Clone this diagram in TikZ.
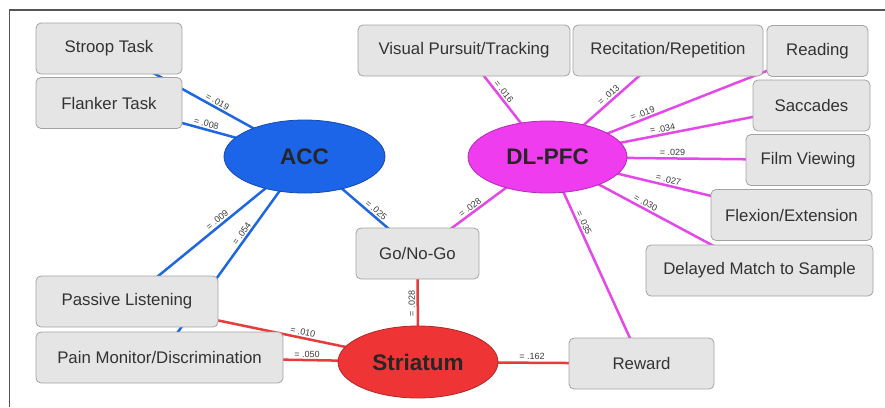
\documentclass[tikz,border=0pt]{standalone}
\usepackage{fontspec}
\setmainfont{Liberation Sans}
\usetikzlibrary{positioning, shapes.geometric, backgrounds}
\definecolor{accblue}{HTML}{1C64E8}
\definecolor{pfcpink}{HTML}{EE3CEE}
\definecolor{strred}{HTML}{EE3434}
\definecolor{lnblue}{HTML}{1F66E2}
\definecolor{lnpink}{HTML}{E548E8}
\definecolor{lnred}{HTML}{E83A3A}
\definecolor{boxfill}{HTML}{E5E5E5}
\definecolor{boxedge}{HTML}{A3A3A3}
\definecolor{boxtext}{HTML}{333333}
\definecolor{wgray}{HTML}{3A3A3A}
\definecolor{framegray}{HTML}{555555}

\begin{document}
\begin{tikzpicture}[
  x=1pt, y=-1pt,
  taskbox/.style={rectangle, draw=boxedge, fill=boxfill, rounded corners=5pt, line width=0.8pt, minimum height=51pt, text=boxtext, font=\fontsize{16.8}{20}\selectfont},
  region/.style={ellipse, line width=0.8pt, text=black!85, font=\fontsize{22.5}{26}\selectfont\bfseries},
  accline/.style={lnblue, line width=2.5pt},
  pfcline/.style={lnpink, line width=2.5pt},
  strline/.style={lnred, line width=2.5pt},
  wlabel/.style={sloped, above, inner sep=1.5pt, text=wgray, font=\fontsize{9}{10}\selectfont},
  vlabel/.style={rotate=90, anchor=south, inner sep=1.5pt, text=wgray, font=\fontsize{9}{10}\selectfont},
]
\useasboundingbox (0,0) rectangle (885,407);

% frame
\draw[framegray, line width=1.3pt] (9.5,407) -- (9.5,10) -- (885,10);

% ACC tasks
\node[taskbox, minimum width=146pt] (stroop) at (109,48.5) {Stroop Task};
\node[taskbox, minimum width=146pt] (flanker) at (109,103) {Flanker Task};
\node[taskbox, minimum width=182pt] (passive) at (127,301.5) {Passive Listening};
\node[taskbox, minimum width=247pt] (pain) at (159.5,357.5) {Pain Monitor/Discrimination};
\node[taskbox, minimum width=123pt] (gonogo) at (417.5,253.5) {Go/No-Go};
\node[taskbox, minimum width=145pt] (reward) at (641.5,363.5) {Reward};

% DL-PFC tasks
\node[taskbox, minimum width=212pt] (pursuit) at (464,50.5) {Visual Pursuit/Tracking};
\node[taskbox, minimum width=190pt] (recite) at (668,50.5) {Recitation/Repetition};
\node[taskbox, minimum width=101pt] (reading) at (817.5,51) {Reading};
\node[taskbox, minimum width=117pt] (saccades) at (811.5,105.5) {Saccades};
\node[taskbox, minimum width=124pt] (film) at (808,160) {Film Viewing};
\node[taskbox, minimum width=161pt] (flexion) at (791.5,215) {Flexion/Extension};
\node[taskbox, minimum width=227pt] (delayed) at (759.5,270.5) {Delayed Match to Sample};

% regions
\node[region, fill=accblue, draw=accblue!75!black, minimum width=161pt, minimum height=73pt] (acc) at (304.5,156.5) {ACC};
\node[region, fill=pfcpink, draw=pfcpink!75!black, minimum width=159pt, minimum height=72pt] (dlpfc) at (547.5,157) {DL-PFC};
\node[region, fill=strred, draw=strred!75!black, minimum width=160pt, minimum height=72pt] (striatum) at (418,362) {Striatum};

\begin{scope}[on background layer]
% ACC links
\draw[accline] (acc.center) -- node[wlabel, pos=0.46] {= .019} (stroop.center);
\draw[accline] (acc.center) -- node[wlabel, pos=0.51] {= .008} (flanker.center);
\draw[accline] (acc.center) -- node[wlabel, pos=0.47] {= .009} (passive.center);
\draw[accline] (acc.center) -- node[wlabel, pos=0.40] {= .054} (pain.center);
\draw[accline] (acc.center) -- node[wlabel, pos=0.6] {= .025} (gonogo.center);

% DL-PFC links
\draw[pfcline] (dlpfc.center) -- node[wlabel, pos=0.57] {= .028} (gonogo.center);
\draw[pfcline] (dlpfc.center) -- node[wlabel, pos=0.58] {= .016} (pursuit.center);
\draw[pfcline] (dlpfc.center) -- node[wlabel, pos=0.54] {= .013} (recite.center);
\draw[pfcline] (dlpfc.center) -- node[wlabel, pos=0.36] {= .019} (reading.center);
\draw[pfcline] (dlpfc.center) -- node[wlabel, pos=0.44] {= .034} (saccades.center);
\draw[pfcline] (dlpfc.center) -- node[wlabel, pos=0.48] {= .029} (film.center);
\draw[pfcline] (dlpfc.center) -- node[wlabel, pos=0.49] {= .027} (flexion.center);
\draw[pfcline] (dlpfc.center) -- node[wlabel, pos=0.45] {= .030} (delayed.center);
\draw[pfcline] (dlpfc.center) -- node[wlabel, pos=0.33] {= .035} (reward.center);

% Striatum links
\draw[strline] (striatum.center) -- node[vlabel, pos=0.54] {= .028} (gonogo.center);
\draw[strline] (passive.center) -- node[wlabel, pos=0.6] {= .010} (striatum.center);
\draw[strline] (pain.center) -- node[wlabel, pos=0.57] {= .050} (striatum.center);
\draw[strline] (striatum.center) -- node[wlabel, pos=0.51] {= .162} (reward.center);
\end{scope}

\end{tikzpicture}
\end{document}
